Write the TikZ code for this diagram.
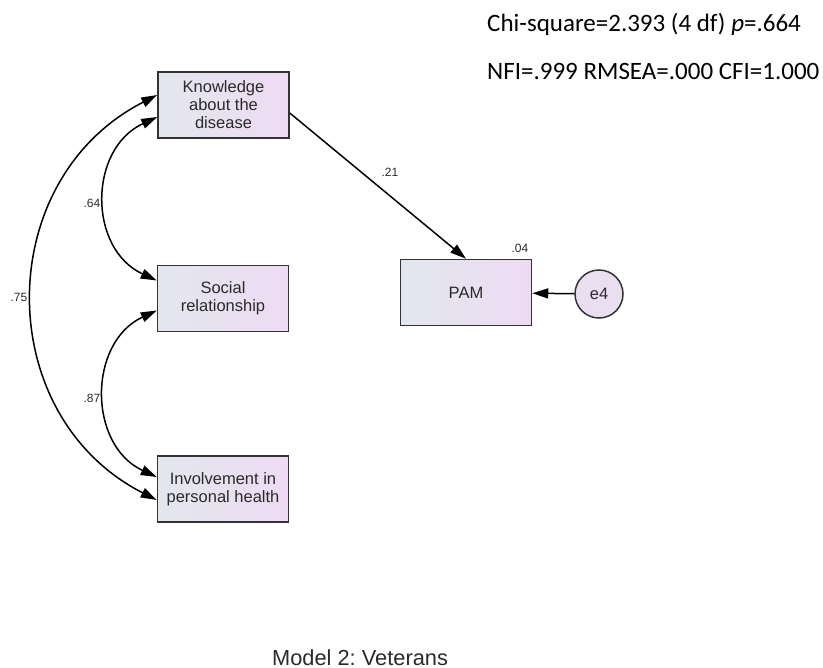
\documentclass[tikz,border=0pt]{standalone}
\usepackage{fontspec}
\setmainfont{Liberation Sans}
\newfontfamily\calfont{Carlito}
\usetikzlibrary{arrows.meta}
\definecolor{boxL}{HTML}{E2E7EE}
\definecolor{boxR}{HTML}{EEDBF3}
\definecolor{errC}{HTML}{EADFF0}
\definecolor{edge}{HTML}{333333}
\definecolor{txt}{HTML}{2A2A2A}
\frenchspacing
\begin{document}
\begin{tikzpicture}[x=1pt,y=-1pt,
  var/.style={draw=edge, line width=1.5pt, left color=boxL, right color=boxR,
    minimum width=131pt, minimum height=66pt, inner sep=0pt, align=center,
    font=\fontsize{16.5}{18}\selectfont, text=txt},
  err/.style={circle, draw=edge, line width=1.5pt, fill=errC, minimum size=48pt,
    inner sep=0pt, font=\fontsize{16.5}{18}\selectfont, text=txt},
  pth/.style={line width=1.5pt, -{Triangle[length=16pt,width=10pt]}},
  cov/.style={line width=1.5pt, {Triangle[length=16pt,width=10pt]}-{Triangle[length=16pt,width=10pt]}},
  lbl/.style={font=\fontsize{12}{14}\selectfont, text=txt, inner sep=0pt},
  fit/.style={anchor=base west, inner sep=0pt, font=\calfont\fontsize{25}{30}\selectfont, text=black}]
\useasboundingbox (0,0) rectangle (823,668);

\node[var] (k) at (223.5,105) {Knowledge\\about the\\disease};
\node[var] (s) at (223,298.5) {Social\\relationship};
\node[var] (i) at (223,489) {Involvement in\\personal health};
\node[var] (p) at (466,292.5) {PAM};
\node[err] (e) at (599,294) {e4};

\draw[pth] ([yshift=-8pt]k.east) -- (p.north);
\draw[pth] (e) -- (p);

\draw[cov] ([yshift=10pt]k.west) .. controls +(-165.5,84.4) and +(-165.5,-84.4) .. ([yshift=-11pt]i.west);
\draw[cov] ([yshift=-12pt]k.west) .. controls +(-69,32) and +(-69,-32) .. ([yshift=18pt]s.west);
\draw[cov] ([yshift=-12pt]s.west) .. controls +(-69,32) and +(-69,-32) .. ([yshift=12pt]i.west);

\node[lbl] (l21) at (390,172) {.21};
\node[lbl] (l04) at (520,248) {.04};
\node[lbl] (l64) at (92,203) {.64};
\node[lbl] (l87) at (92,398) {.87};
\node[lbl] (l75) at (19,297) {.75};

\node[fit] (chi) at (487,32) {Chi-square=2.393 (4 df) {\itshape p}=.664};
\node[fit] (nfi) at (487,80) {NFI=.999 RMSEA=.000 CFI=1.000};

\node[anchor=base west, inner sep=0pt, font=\fontsize{21.8}{24}\selectfont, text=txt] (title) at (272,665) {Model 2: Veterans};
\end{tikzpicture}
\end{document}
